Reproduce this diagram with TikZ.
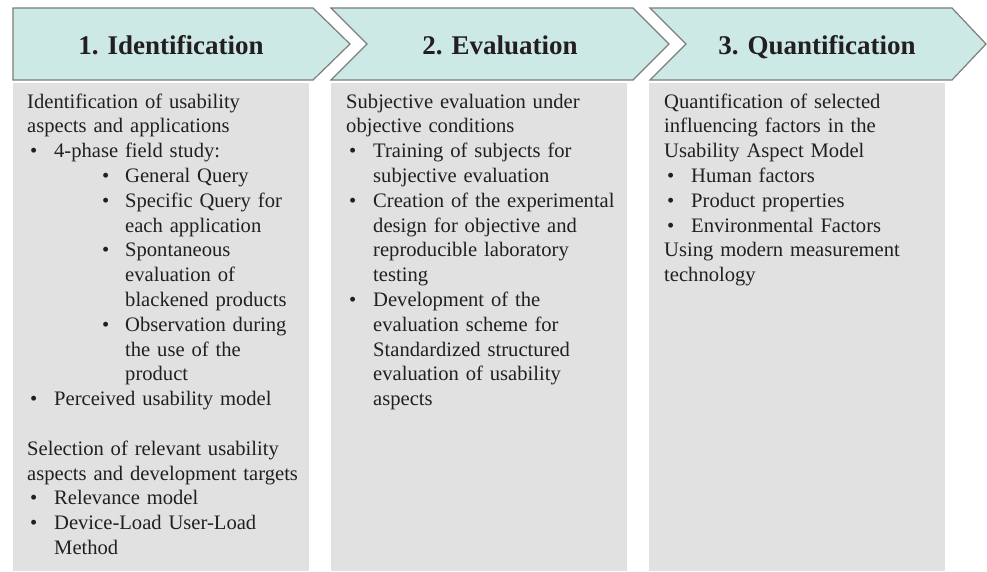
\documentclass[tikz,border=0pt]{standalone}
\usepackage{fontspec}
\setmainfont{Liberation Serif}
\usetikzlibrary{positioning}

\definecolor{chevteal}{RGB}{205,233,229}
\definecolor{chevedge}{RGB}{125,125,125}
\definecolor{panelgray}{RGB}{225,225,225}
\definecolor{inkgray}{RGB}{35,31,32}

% bullet items: first level and nested level
\newcommand\bodyfmt{\setlength\parindent{0pt}\setlength\parskip{0pt}}
\newcommand\bulitem{\par\hangindent=27pt\hangafter=1\noindent\makebox[27pt][l]{\hspace{3pt}\textbullet}}
\newcommand\subbul{\par\hangindent=98pt\hangafter=1\noindent\hspace*{75pt}\makebox[23pt][l]{\textbullet}}

\tikzset{
  chevron/.style={draw=chevedge, fill=chevteal, line width=1.2pt, line join=miter},
  panel/.style={fill=panelgray, draw=none, inner sep=0pt, minimum width=296pt, minimum height=488pt, anchor=north west},
  heading/.style={font=\bfseries\fontsize{27}{30}\selectfont, text=inkgray, anchor=base, inner sep=0pt},
  bodytext/.style={font=\fontsize{20.6}{24.8}\selectfont, text=inkgray, text width=300pt, inner sep=0pt, anchor=base west}
}

\begin{document}
\begin{tikzpicture}[x=1pt,y=-1pt]

    \useasboundingbox (0,0) rectangle (987,571);

    % Chevrons for the three steps
    \draw[chevron] (13,8) -- (313,8) -- (350,44) -- (313,80) -- (13,80) -- cycle;
    \draw[chevron] (331,8) -- (633,8) -- (669,44) -- (633,80) -- (331,80) -- (367,44) -- cycle;
    \draw[chevron] (650,8) -- (952,8) -- (986,44) -- (952,80) -- (650,80) -- (686,44) -- cycle;

    \node[heading] (t1) at (171,54) {1. Identification};
    \node[heading] (t2) at (500,54) {2. Evaluation};
    \node[heading] (t3) at (817,54) {3. Quantification};

    % Gray panels below
    \node[panel] (pan1) at (13,83) {};
    \node[panel] (pan2) at (331,83) {};
    \node[panel] (pan3) at (649,83) {};

    % Panel texts
    \node[bodytext] (txt1) at (27,108) {\bodyfmt
      Identification of usability\newline aspects and applications
      \bulitem 4-phase field study:
      \subbul General Query
      \subbul Specific Query for\newline each application
      \subbul Spontaneous\newline evaluation of\newline blackened products
      \subbul Observation during\newline the use of the\newline product
      \bulitem Perceived usability model
      \par\mbox{}
      \par Selection of relevant usability\newline aspects and development targets
      \bulitem Relevance model
      \bulitem Device-Load User-Load\newline Method\par};

    \node[bodytext] (txt2) at (346,108) {\bodyfmt
      Subjective evaluation under\newline objective conditions
      \bulitem Training of subjects for\newline subjective evaluation
      \bulitem Creation of the experimental\newline design for objective and\newline reproducible laboratory\newline testing
      \bulitem Development of the\newline evaluation scheme for\newline Standardized structured\newline evaluation of usability\newline aspects\par};

    \node[bodytext] (txt3) at (664,108) {\bodyfmt
      Quantification of selected\newline influencing factors in the\newline Usability Aspect Model
      \bulitem Human factors
      \bulitem Product properties
      \bulitem Environmental Factors
      \par Using modern measurement\newline technology\par};

\end{tikzpicture}
\end{document}
